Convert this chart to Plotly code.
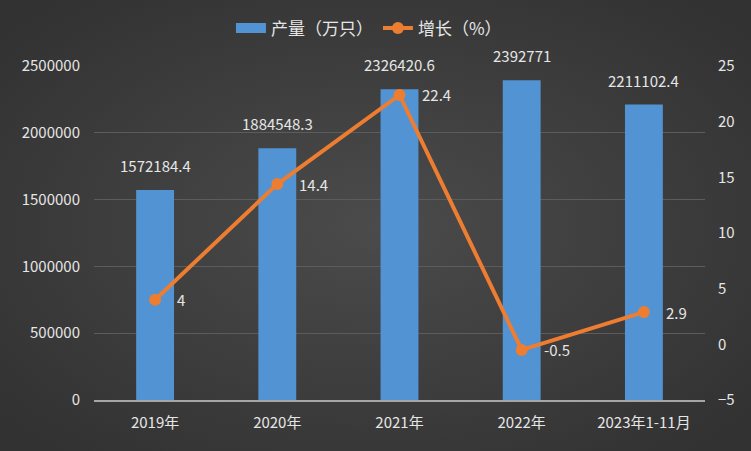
import base64
import plotly.graph_objects as go

categories = ["2019年", "2020年", "2021年", "2022年", "2023年1-11月"]
output = [1572184.4, 1884548.3, 2326420.6, 2392771, 2211102.4]
output_labels = ["1572184.4", "1884548.3", "2326420.6", "2392771", "2211102.4"]
growth = [4, 14.4, 22.4, -0.5, 2.9]
growth_labels = ["4", "14.4", "22.4", "-0.5", "2.9"]

font_family = "Noto Sans CJK SC, Microsoft YaHei, sans-serif"
txt_color = "#e6e6e6"
bar_color = "#5293d4"
line_color = "#ed7d31"

W, H = 751, 451
ML, MR, MT, MB = 94, 46, 66, 51
pw, ph = W - ML - MR, H - MT - MB

bg_svg = (
    '<svg xmlns="http://www.w3.org/2000/svg" width="751" height="451" viewBox="0 0 751 451" '
    'preserveAspectRatio="none">'
    '<defs><radialGradient id="g" cx="50%" cy="50%" r="65%">'
    '<stop offset="0%" stop-color="#4b4b4b"/><stop offset="100%" stop-color="#323232"/>'
    '</radialGradient></defs><rect width="751" height="451" fill="url(#g)"/></svg>'
)
bg_src = "data:image/svg+xml;base64," + base64.b64encode(bg_svg.encode()).decode()

fig = go.Figure()
fig.add_trace(go.Bar(
    x=categories, y=output, name="产量（万只）", showlegend=False,
    marker=dict(color=bar_color, line=dict(width=0)),
    width=0.31,
))
fig.add_trace(go.Scatter(
    x=categories, y=growth, name="增长（%）", yaxis="y2",
    mode="lines+markers",
    line=dict(color=line_color, width=4),
    marker=dict(color=line_color, size=12),
    cliponaxis=False, legendrank=2,
))
# legend-only entry to mimic the wide rectangle swatch
fig.add_trace(go.Scatter(
    x=[None], y=[None], name="产量（万只）", mode="lines",
    line=dict(color=bar_color, width=10), hoverinfo="skip", legendrank=1,
))

for c, v, t in zip(categories, output, output_labels):
    fig.add_annotation(x=c, y=v, xref="x", yref="y", text=t, showarrow=False,
                       yanchor="bottom", yshift=12,
                       font=dict(size=15, color=txt_color, family=font_family))
for c, v, t in zip(categories, growth, growth_labels):
    fig.add_annotation(x=c, y=v, xref="x", yref="y2", text=t, showarrow=False,
                       xanchor="left", yanchor="middle", xshift=20,
                       font=dict(size=15, color=txt_color, family=font_family))

fig.add_layout_image(dict(
    source=bg_src, xref="paper", yref="paper",
    x=-ML / pw, y=1 + MT / ph, sizex=W / pw, sizey=H / ph,
    xanchor="left", yanchor="top", sizing="stretch", layer="below",
))

fig.update_layout(
    width=W, height=H,
    margin=dict(l=ML, r=MR, t=MT, b=MB, autoexpand=False),
    paper_bgcolor="#404040", plot_bgcolor="rgba(0,0,0,0)",
    font=dict(family=font_family, color=txt_color, size=14),
    showlegend=True,
    legend=dict(orientation="h", x=0.45, xanchor="center", y=0.937, yanchor="middle",
                yref="container", font=dict(size=17, color=txt_color),
                bgcolor="rgba(0,0,0,0)"),
    bargap=0.69,
    xaxis=dict(type="category", categoryorder="array", categoryarray=categories,
               showgrid=False, showline=True, linecolor="#a6a6a6", linewidth=2,
               ticks="", ticklabelstandoff=8, tickfont=dict(size=15, color=txt_color)),
    yaxis=dict(range=[0, 2500000], dtick=500000, showgrid=True, gridcolor="#5c5c5c",
               gridwidth=1, zeroline=False, tickformat="d", ticks="",
               ticklabelstandoff=13, tickfont=dict(size=15, color=txt_color)),
    yaxis2=dict(range=[-5, 25], dtick=5, overlaying="y", side="right", showgrid=False,
                zeroline=False, ticks="", ticklabelstandoff=12,
                tickfont=dict(size=15, color=txt_color)),
)
fig.write_html("out.html", config={"displayModeBar": False},
               post_script="document.body.style.margin='0';document.body.style.background='#3a3a3a';")
